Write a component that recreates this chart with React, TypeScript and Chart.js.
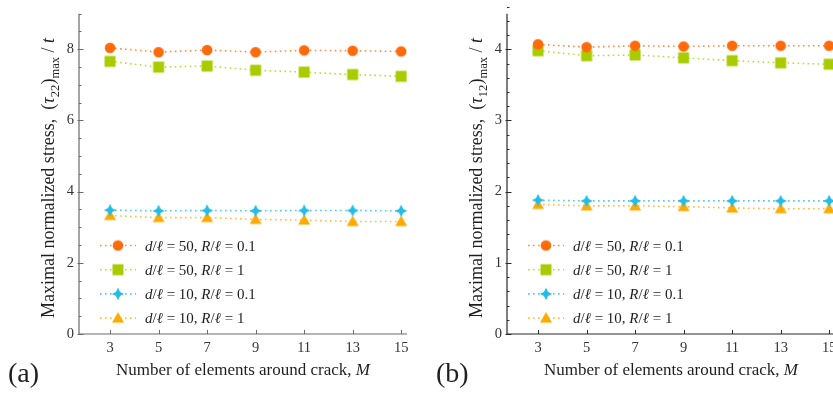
import React, { useEffect, useRef } from 'react';
import { Chart, registerables } from 'chart.js';

Chart.register(...registerables);

// ---- data ----
const elementCounts = [3, 5, 7, 9, 11, 13, 15];

const tau22_d50_R01 = [8.04, 7.92, 7.98, 7.92, 7.97, 7.96, 7.94];
const tau22_d50_R1 = [7.66, 7.5, 7.53, 7.41, 7.36, 7.29, 7.24];
const tau22_d10_R01 = [3.48, 3.46, 3.47, 3.46, 3.47, 3.47, 3.46];
const tau22_d10_R1 = [3.33, 3.27, 3.27, 3.22, 3.2, 3.16, 3.16];

const tau12_d50_R01 = [4.07, 4.03, 4.05, 4.04, 4.05, 4.05, 4.05];
const tau12_d50_R1 = [3.98, 3.91, 3.92, 3.88, 3.84, 3.81, 3.79];
const tau12_d10_R01 = [1.88, 1.87, 1.87, 1.87, 1.87, 1.87, 1.87];
const tau12_d10_R1 = [1.82, 1.8, 1.8, 1.79, 1.77, 1.76, 1.76];

const xTickValues = [3, 5, 7, 9, 11, 13, 15];
const yTicks22 = [0, 2, 4, 6, 8];
const yTicks12 = [0, 1, 2, 3, 4];

type Seg = { t: string; i?: boolean; sub?: boolean };

const seriesLabels: Seg[][] = [
  [{ t: 'd', i: true }, { t: '/' }, { t: 'ℓ', i: true }, { t: ' = 50, ' }, { t: 'R', i: true }, { t: '/' }, { t: 'ℓ', i: true }, { t: ' = 0.1' }],
  [{ t: 'd', i: true }, { t: '/' }, { t: 'ℓ', i: true }, { t: ' = 50, ' }, { t: 'R', i: true }, { t: '/' }, { t: 'ℓ', i: true }, { t: ' = 1' }],
  [{ t: 'd', i: true }, { t: '/' }, { t: 'ℓ', i: true }, { t: ' = 10, ' }, { t: 'R', i: true }, { t: '/' }, { t: 'ℓ', i: true }, { t: ' = 0.1' }],
  [{ t: 'd', i: true }, { t: '/' }, { t: 'ℓ', i: true }, { t: ' = 10, ' }, { t: 'R', i: true }, { t: '/' }, { t: 'ℓ', i: true }, { t: ' = 1' }],
];

const yTitle22: Seg[] = [
  { t: 'Maximal normalized stress,  (' }, { t: 'τ', i: true }, { t: '22', sub: true }, { t: ')' }, { t: 'max', sub: true }, { t: ' / ' }, { t: 't', i: true },
];
const yTitle12: Seg[] = [
  { t: 'Maximal normalized stress,  (' }, { t: 'τ', i: true }, { t: '12', sub: true }, { t: ')' }, { t: 'max', sub: true }, { t: ' / ' }, { t: 't', i: true },
];
const xTitle: Seg[] = [{ t: 'Number of elements around crack, ' }, { t: 'M', i: true }];

const markerKinds = ['circle', 'square', 'star', 'triangle'];
const markerColors = ['#ff6a0a', '#a8cc00', '#22bde6', '#ffaa00'];
const lineColors = ['#ff8a3c', '#bcd83a', '#4ccbe9', '#ffbc40'];

const FONT = "'Liberation Serif', 'Times New Roman', serif";

// ---- helpers ----
function makeMarker(kind: string, color: string): HTMLCanvasElement {
  const c = document.createElement('canvas');
  c.width = 14;
  c.height = 14;
  const g = c.getContext('2d')!;
  g.fillStyle = color;
  g.beginPath();
  const cx = 7, cy = 7;
  if (kind === 'circle') {
    g.arc(cx, cy, 5.3, 0, Math.PI * 2);
  } else if (kind === 'square') {
    g.rect(cx - 5.5, cy - 5.5, 11, 11);
  } else if (kind === 'star') {
    const ro = 6.2, ri = 2.9;
    for (let k = 0; k < 8; k++) {
      const a = (k * Math.PI) / 4 - Math.PI / 2;
      const r = k % 2 === 0 ? ro : ri;
      const px = cx + r * Math.cos(a), py = cy + r * Math.sin(a);
      if (k === 0) g.moveTo(px, py); else g.lineTo(px, py);
    }
    g.closePath();
  } else {
    g.moveTo(cx, cy - 6);
    g.lineTo(cx + 6, cy + 4.4);
    g.lineTo(cx - 6, cy + 4.4);
    g.closePath();
  }
  g.fill();
  return c;
}

function richWidth(ctx: CanvasRenderingContext2D, segs: Seg[], size: number) {
  let w = 0;
  for (const s of segs) {
    ctx.font = `${s.i ? 'italic ' : ''}${s.sub ? size * 0.7 : size}px ${FONT}`;
    w += ctx.measureText(s.t).width;
  }
  return w;
}

function drawRich(ctx: CanvasRenderingContext2D, segs: Seg[], x: number, y: number, size: number, center: boolean) {
  ctx.textBaseline = 'alphabetic';
  ctx.textAlign = 'left';
  let cx = center ? x - richWidth(ctx, segs, size) / 2 : x;
  for (const s of segs) {
    ctx.font = `${s.i ? 'italic ' : ''}${s.sub ? size * 0.7 : size}px ${FONT}`;
    ctx.fillText(s.t, cx, y + (s.sub ? size * 0.25 : 0));
    cx += ctx.measureText(s.t).width;
  }
}

// Axis frame with inward ticks, titles, legend and panel tag.
const framePlugin = {
  id: 'frame',
  beforeDatasetsDraw(chart: any, _args: any, opts: any) {
    const { ctx, scales } = chart;
    const x = scales.x, y = scales.y;
    ctx.save();
    ctx.strokeStyle = opts.axisColor;
    ctx.lineWidth = 1.2;
    ctx.beginPath();
    ctx.moveTo(x.left, y.top);
    ctx.lineTo(x.left, y.bottom);
    ctx.lineTo(x.right, y.bottom);
    ctx.stroke();
    ctx.lineWidth = 1;
    const n = Math.round(opts.yMax / opts.yMinor);
    for (let k = 0; k <= n; k++) {
      const v = k * opts.yMinor;
      const major = Math.abs(v / opts.yMajor - Math.round(v / opts.yMajor)) < 1e-6;
      const py = Math.round(y.getPixelForValue(v)) + 0.5;
      ctx.beginPath();
      ctx.moveTo(x.left - (major ? 1.5 : 0), py);
      ctx.lineTo(x.left + (major ? 4.5 : 2.5), py);
      ctx.stroke();
    }
    for (const v of xTickValues) {
      const px = Math.round(x.getPixelForValue(v)) + 0.5;
      ctx.beginPath();
      ctx.moveTo(px, y.bottom);
      ctx.lineTo(px, y.bottom - 4);
      ctx.stroke();
    }
    ctx.restore();
  },
  afterDraw(chart: any, _args: any, opts: any) {
    const { ctx, chartArea } = chart;
    ctx.save();
    ctx.fillStyle = '#1e1e1e';
    // y title
    ctx.save();
    ctx.translate(chartArea.left - 31, 178);
    ctx.rotate(-Math.PI / 2);
    drawRich(ctx, opts.yTitle, 0, 6, 18, true);
    ctx.restore();
    // x title
    drawRich(ctx, xTitle, (chartArea.left + chartArea.right) / 2, 375, 17, true);
    // panel tag
    ctx.font = `28px ${FONT}`;
    ctx.textBaseline = 'alphabetic';
    ctx.textAlign = 'left';
    ctx.fillText(opts.tag, 8, 382);
    // legend
    const datasets = chart.data.datasets;
    datasets.forEach((ds: any, i: number) => {
      const ry = 245.5 + i * 24.2;
      const lx = chartArea.left;
      ctx.save();
      ctx.strokeStyle = ds.borderColor;
      ctx.lineWidth = ds.borderWidth;
      ctx.setLineDash(ds.borderDash);
      ctx.beginPath();
      ctx.moveTo(lx + 21, ry);
      ctx.lineTo(lx + 57, ry);
      ctx.stroke();
      ctx.restore();
      const img = ds.pointStyle as HTMLCanvasElement;
      ctx.drawImage(img, lx + 39 - img.width / 2, ry - img.height / 2);
      ctx.fillStyle = '#1e1e1e';
      drawRich(ctx, seriesLabels[i], lx + 66, ry + 5, 15, false);
    });
    ctx.restore();
  },
};

type PanelProps = {
  left: number;
  series: number[][];
  yMax: number;
  yMajor: number;
  yMinor: number;
  yTicks: number[];
  yTitle: Seg[];
  tag: string;
  axisColor: string;
};

function Panel(p: PanelProps) {
  const ref = useRef<HTMLCanvasElement | null>(null);
  useEffect(() => {
    if (!ref.current) return;
    const datasets = p.series.map((vals, i) => ({
      data: elementCounts.map((m, j) => ({ x: m, y: vals[j] })),
      borderColor: lineColors[i],
      backgroundColor: markerColors[i],
      borderWidth: 1.6,
      borderDash: [1.6, 3.4],
      pointStyle: makeMarker(markerKinds[i], markerColors[i]) as any,
      pointRadius: 6,
      showLine: true,
      fill: false,
      tension: 0,
    }));
    const tickFont = { family: FONT, size: 14.5 };
    const chart = new Chart(ref.current, {
      type: 'line',
      data: { datasets: datasets as any },
      plugins: [framePlugin as any],
      options: {
        responsive: false,
        animation: false,
        devicePixelRatio: 1,
        layout: { padding: { top: 6, right: 13, left: 0, bottom: 0 } },
        plugins: {
          legend: { display: false },
          tooltip: { enabled: false },
          frame: {
            axisColor: p.axisColor,
            yMax: p.yMax,
            yMajor: p.yMajor,
            yMinor: p.yMinor,
            yTitle: p.yTitle,
            tag: p.tag,
          },
        } as any,
        scales: {
          x: {
            type: 'linear',
            min: 1.72,
            max: 15.24,
            grid: { display: false, drawTicks: false },
            border: { display: false },
            ticks: { padding: 5, font: tickFont, color: '#333', autoSkip: false, maxRotation: 0 },
            afterBuildTicks: (s: any) => {
              s.ticks = xTickValues.map((v) => ({ value: v }));
            },
            afterFit: (s: any) => {
              s.height = 60;
            },
          },
          y: {
            type: 'linear',
            min: 0,
            max: p.yMax,
            grid: { display: false, drawTicks: false },
            border: { display: false },
            ticks: { padding: 5, font: tickFont, color: '#333', includeBounds: false },
            afterBuildTicks: (s: any) => {
              s.ticks = p.yTicks.map((v) => ({ value: v }));
            },
            afterFit: (s: any) => {
              s.width = 79;
            },
          },
        },
      },
    });
    return () => chart.destroy();
  }, []);
  return (
    <canvas
      ref={ref}
      width={420}
      height={394}
      style={{ position: 'absolute', left: p.left, top: 0, width: 420, height: 394 }}
    />
  );
}

export default function App() {
  return (
    <div
      style={{
        position: 'fixed',
        left: 0,
        top: 0,
        width: 833,
        height: 394,
        overflow: 'hidden',
        background: '#fff',
      }}
    >
      <Panel
        left={0}
        series={[tau22_d50_R01, tau22_d50_R1, tau22_d10_R01, tau22_d10_R1]}
        yMax={9}
        yMajor={2}
        yMinor={0.5}
        yTicks={yTicks22}
        yTitle={yTitle22}
        tag="(a)"
        axisColor="#6a6a6a"
      />
      <Panel
        left={428}
        series={[tau12_d50_R01, tau12_d50_R1, tau12_d10_R01, tau12_d10_R1]}
        yMax={4.5}
        yMajor={1}
        yMinor={0.2}
        yTicks={yTicks12}
        yTitle={yTitle12}
        tag="(b)"
        axisColor="#2a2a2a"
      />
    </div>
  );
}
